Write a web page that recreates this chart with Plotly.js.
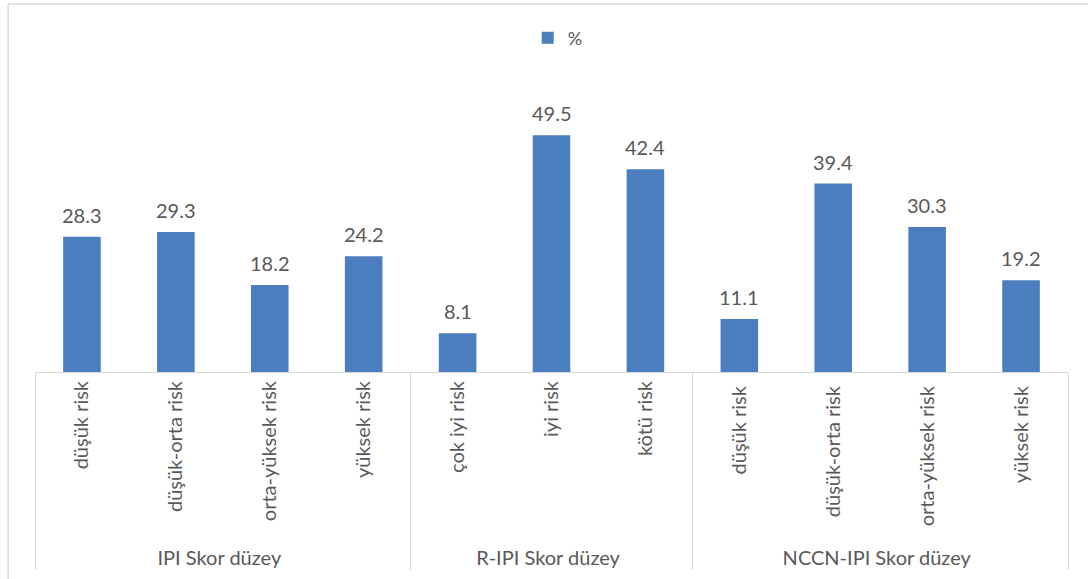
<!DOCTYPE html>
<html>
<head>
<meta charset="utf-8">
<script src="https://cdn.plot.ly/plotly-3.0.1.min.js"></script>
<style>
  html, body { margin: 0; padding: 0; background: #ffffff; }
  #chart { width: 1088px; height: 579px; }
</style>
</head>
<body>
<div id="chart"></div>
<script>
// Risk groups of each scoring system and the share (%) of patients in each
const groups = [
  'IPI Skor düzey', 'IPI Skor düzey', 'IPI Skor düzey', 'IPI Skor düzey',
  'R-IPI Skor düzey', 'R-IPI Skor düzey', 'R-IPI Skor düzey',
  'NCCN-IPI Skor düzey', 'NCCN-IPI Skor düzey', 'NCCN-IPI Skor düzey', 'NCCN-IPI Skor düzey'
];
const riskLevels = [
  'düşük risk', 'düşük-orta risk', 'orta-yüksek risk', 'yüksek risk',
  'çok iyi risk', 'iyi risk', 'kötü risk',
  'düşük risk ', 'düşük-orta risk ', 'orta-yüksek risk ', 'yüksek risk '
];
const percent = [28.3, 29.3, 18.2, 24.2, 8.1, 49.5, 42.4, 11.1, 39.4, 30.3, 19.2];

const textColor = '#595959';
const gridColor = '#d9d9d9';
const barColor = '#4a7ebf';
const font = 'Lato, "Open Sans", sans-serif';

const trace = {
  type: 'bar',
  name: '%',
  x: [groups, riskLevels],
  y: percent,
  marker: { color: barColor },
  hoverinfo: 'x+y'
};

// value labels sit a little above each bar
const valueLabels = percent.map((v, i) => ({
  x: i,
  y: v,
  xref: 'x',
  yref: 'y',
  text: v.toFixed(1),
  showarrow: false,
  yanchor: 'bottom',
  yshift: 8,
  font: { family: font, size: 20, color: textColor }
}));

const layout = {
  width: 1088,
  height: 579,
  margin: { l: 35, r: 20, t: 109, b: 207 },
  paper_bgcolor: '#ffffff',
  plot_bgcolor: '#ffffff',
  font: { family: font, size: 20, color: textColor },
  bargap: 0.6,
  showlegend: true,
  legend: {
    orientation: 'h',
    x: 0.506, xanchor: 'center',
    y: 1.27, yanchor: 'middle',
    font: { family: font, size: 18, color: textColor },
    itemwidth: 30
  },
  xaxis: {
    type: 'multicategory',
    tickangle: -90,
    showline: true,
    linecolor: gridColor,
    linewidth: 1,
    showdividers: true,
    dividercolor: gridColor,
    dividerwidth: 1,
    ticks: '',
    tickfont: { family: font, size: 20, color: textColor },
    fixedrange: true
  },
  yaxis: {
    range: [0, 55],
    visible: false,
    showgrid: false,
    zeroline: false,
    fixedrange: true
  },
  annotations: valueLabels,
  shapes: [{
    type: 'rect',
    xref: 'paper', yref: 'paper',
    x0: -0.026, x1: 1.2, y0: -1.2, y1: 1.399,
    line: { color: gridColor, width: 1.5 },
    fillcolor: 'rgba(0,0,0,0)',
    layer: 'below'
  }]
};

Plotly.newPlot('chart', [trace], layout, { displayModeBar: false, staticPlot: true });
</script>
</body>
</html>
